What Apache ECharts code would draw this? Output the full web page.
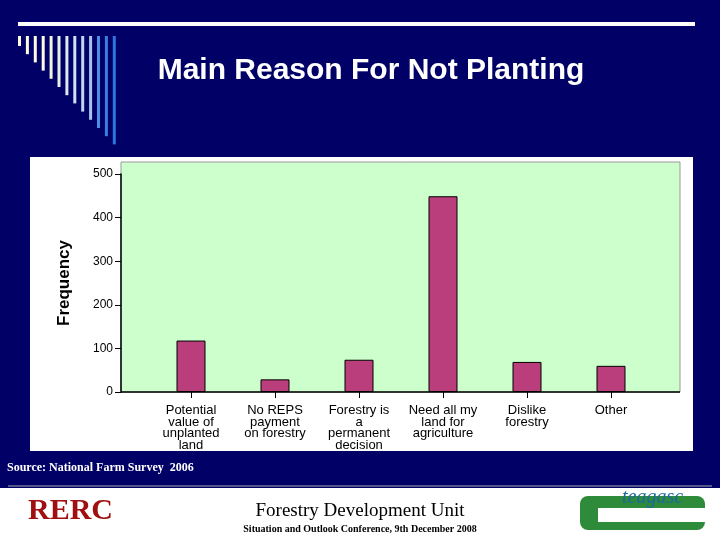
<!DOCTYPE html>
<html>
<head>
<meta charset="utf-8">
<script src="https://cdn.jsdelivr.net/npm/echarts@6/dist/echarts.min.js"></script>
<style>html,body{margin:0;padding:0;background:#000066;}#chart{width:720px;height:540px;}</style>
</head>
<body>
<div id="chart"></div>
<script>
// data
var categories = ['Potential\nvalue of\nunplanted\nland', 'No REPS\npayment\non forestry', 'Forestry is\na\npermanent\ndecision', 'Need all my\nland for\nagriculture', 'Dislike\nforestry', 'Other'];
var frequency = [118, 29, 74, 449, 69, 60];
var yTicks = [0, 100, 200, 300, 400, 500];

var chart = echarts.init(document.getElementById('chart'));

// decorative stripes at top-left
var stripeColors = ['#fffbe0', '#fffbe0', '#fffbe0', '#fffbe0', '#f4f4dc', '#e8eee0', '#dfe8f0', '#d0e0f4', '#c0d4f0', '#a8c4ee', '#4d8de8', '#3a7ee0', '#2f75e0'];
var deco = [];
stripeColors.forEach(function (c, i) {
    deco.push({ type: 'rect', shape: { x: 18 + i * 7.9, y: 36, width: 3, height: 10 + i * 8.2 }, style: { fill: c } });
});

chart.setOption({
    backgroundColor: '#000066',
    title: {
        text: 'Main Reason For Not Planting',
        left: 366, top: 51, textAlign: 'center',
        textStyle: { color: '#fff', fontFamily: 'Liberation Sans', fontWeight: 'bold', fontSize: 30 }
    },
    graphic: deco.concat([
        { type: 'rect', shape: { x: 18, y: 22, width: 677, height: 4 }, style: { fill: '#fff' } },
        { type: 'rect', shape: { x: 30, y: 157, width: 663, height: 294 }, style: { fill: '#fff' }, z: -10 },
        { type: 'rect', shape: { x: 121, y: 162, width: 559, height: 230 }, style: { fill: '#ccffcc', stroke: '#999', lineWidth: 1 }, z: -9 },
        { type: 'line', shape: { x1: 121, y1: 392, x2: 680, y2: 392 }, style: { stroke: '#000', lineWidth: 1.5 }, z: 5 },
        { type: 'text', style: { x: 7, y: 462, text: 'Source: National Farm Survey  2006', fill: '#fff', font: 'bold 12px "Liberation Serif"' } },
        { type: 'rect', shape: { x: 0, y: 488, width: 720, height: 52 }, style: { fill: '#fff' }, z: -10 },
        { type: 'line', shape: { x1: 8, y1: 486, x2: 712, y2: 486 }, style: { stroke: '#aaa', lineWidth: 1 } },
        { type: 'text', style: { x: 28, y: 496, text: 'RERC', fill: '#a01010', font: 'bold 30px "Liberation Serif"' } },
        { type: 'text', style: { x: 360, y: 502, text: 'Forestry Development Unit', fill: '#000', font: '19px "Liberation Serif"', align: 'center' } },
        { type: 'text', style: { x: 360, y: 524, text: 'Situation and Outlook Conference, 9th December 2008', fill: '#000', font: 'bold 10px "Liberation Serif"', align: 'center' } },
        { type: 'rect', shape: { x: 580, y: 496, width: 125, height: 34, r: 8 }, style: { fill: '#2e8b3a' } },
        { type: 'rect', shape: { x: 598, y: 508, width: 107, height: 14 }, style: { fill: '#fff' } },
        { type: 'text', style: { x: 622, y: 488, text: 'teagasc', fill: '#1a6aa0', font: 'italic 20px "Liberation Serif"' } }
    ]),
    grid: { left: 149, right: 67, top: 174, bottom: 148 },
    xAxis: {
        type: 'category',
        data: categories,
        axisLine: { show: false },
        axisTick: { show: true, alignWithLabel: true, length: 6, lineStyle: { color: '#000' } },
        axisLabel: { color: '#000', fontFamily: 'Liberation Sans', fontSize: 13, lineHeight: 11.5, margin: 13, interval: 0 }
    },
    yAxis: {
        type: 'value',
        min: 0, max: 500, interval: 100,
        offset: 28,
        name: 'Frequency', nameLocation: 'middle', nameGap: 48, nameRotate: 90,
        nameTextStyle: { color: '#000', fontFamily: 'Liberation Sans', fontWeight: 'bold', fontSize: 17 },
        axisLine: { show: true, lineStyle: { color: '#000', width: 1.5 } },
        axisTick: { show: true, length: 6, lineStyle: { color: '#000' } },
        axisLabel: { color: '#000', fontFamily: 'Liberation Sans', fontSize: 12, formatter: function (v) { return yTicks.indexOf(v) >= 0 ? v : ''; } },
        splitLine: { show: false }
    },
    series: [{
        type: 'bar',
        data: frequency,
        barWidth: 29,
        itemStyle: { color: '#bb3e7c', borderColor: '#000', borderWidth: 1 }
    }]
});
</script>
</body>
</html>
